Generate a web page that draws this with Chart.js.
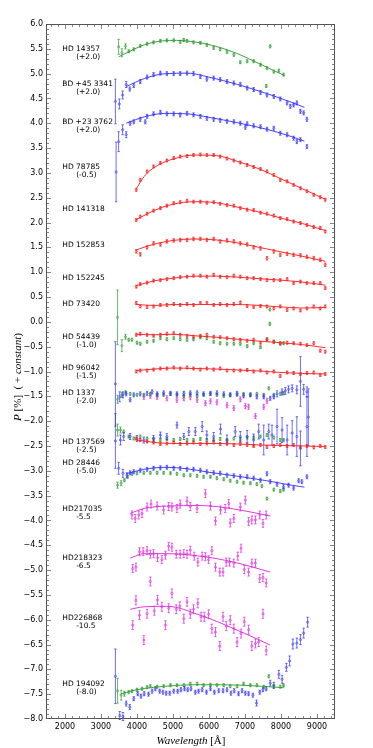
<!DOCTYPE html>
<html>
<head>
<meta charset="utf-8">
<script src="https://cdn.jsdelivr.net/npm/chart.js@4.4.0/dist/chart.umd.min.js"></script>
<style>
  html, body { margin: 0; padding: 0; background: #fff; }
  #c { display: block; }
</style>
</head>
<body>
<canvas id="c" width="373" height="748"></canvas>
<script>
// ===== Axis ticks =====
const X_TICKS = [2000, 3000, 4000, 5000, 6000, 7000, 8000, 9000];
const Y_TICKS = [-8, -7.5, -7, -6.5, -6, -5.5, -5, -4.5, -4, -3.5, -3, -2.5, -2, -1.5, -1, -0.5, 0, 0.5, 1, 1.5, 2, 2.5, 3, 3.5, 4, 4.5, 5, 5.5, 6];

// ===== Star labels (name, offset, P where the label sits) =====
const LABEL_NAMES = ["HD 14357", "BD +45 3341", "BD +23 3762", "HD 78785", "HD 141318", "HD 152853", "HD 152245", "HD 73420", "HD 54439", "HD 96042", "HD 1337", "HD 137569", "HD 28446", "HD217035", "HD218323", "HD226868", "HD 194092"];
const LABEL_SHIFTS = ["(+2.0)", "(+2.0)", "(+2.0)", "(-0.5)", "", "", "", "", "(-1.0)", "(-1.5)", "(-2.0)", "(-2.5)", "(-5.0)", "-5.5", "-6.5", "-10.5", "(-8.0)"];
const LABEL_P = [5.50, 4.80, 4.02, 3.11, 2.27, 1.54, 0.89, 0.36, -0.31, -0.94, -1.43, -2.42, -2.84, -3.77, -4.75, -5.96, -7.29];

// ===== Red (long wavelength range) series, shared grid =====
const WL_RED = [3980, 4090, 4280, 4460, 4650, 4830, 5020, 5200, 5390, 5570, 5760, 5940, 6130, 6310, 6500, 6690, 6870, 7060, 7240, 7430, 7610, 7800, 7980, 8170, 8350, 8540, 8720, 8910, 9090, 9230];
const P_HD78785 = [2.66, 2.86, 3.03, 3.13, 3.20, 3.25, 3.30, 3.33, 3.34, 3.36, 3.37, 3.36, 3.36, 3.33, 3.29, 3.25, 3.21, 3.16, 3.12, 3.08, 3.03, 2.96, 2.86, 2.83, 2.76, 2.69, 2.63, 2.56, 2.51, 2.46];
const P_HD141318 = [2.05, 2.12, 2.18, 2.24, 2.29, 2.34, 2.39, 2.41, 2.44, 2.42, 2.42, 2.40, 2.41, 2.38, 2.35, 2.34, 2.29, 2.26, 2.25, 2.20, 2.18, 2.14, 2.09, 2.07, 2.02, 1.99, 1.95, 1.91, 1.89, 1.82];
const P_HD152853 = [1.42, 1.36, 1.50, 1.58, 1.56, 1.62, 1.64, 1.65, 1.65, 1.67, 1.67, 1.65, 1.67, 1.62, 1.64, 1.62, 1.58, 1.56, 1.50, 1.48, 1.28, 1.42, 1.35, 1.37, 1.35, 1.34, 1.31, 1.28, 1.25, 1.15];
const P_HD152245 = [0.71, 0.76, 0.79, 0.83, 0.84, 0.86, 0.88, 0.90, 0.91, 0.93, 0.93, 0.91, 0.95, 0.91, 0.90, 0.93, 0.91, 0.88, 0.88, 0.86, 0.84, 0.84, 0.84, 0.86, 0.78, 0.81, 0.78, 0.78, 0.78, 0.68];
const P_HD73420 = [0.38, 0.31, 0.30, 0.31, 0.34, 0.34, 0.36, 0.34, 0.36, 0.34, 0.38, 0.38, 0.34, 0.36, 0.34, 0.36, 0.39, 0.32, 0.30, 0.32, 0.31, 0.27, 0.31, 0.24, 0.27, 0.23, 0.27, 0.31, 0.27, 0.31];
const P_HD54439_R = [-0.26, -0.24, -0.26, -0.28, -0.26, -0.24, -0.23, -0.26, -0.28, -0.30, -0.28, -0.26, -0.30, -0.31, -0.33, -0.35, -0.36, -0.38, -0.36, -0.42, -0.35, -0.40, -0.43, -0.42, -0.43, -0.44, -0.47, -0.43, -0.58, -0.60];
const P_HD96042 = [-1.00, -0.98, -0.98, -0.96, -0.94, -0.94, -0.92, -0.94, -0.92, -0.94, -0.96, -0.94, -0.96, -0.94, -0.98, -0.98, -0.98, -0.97, -1.00, -0.98, -1.02, -1.00, -1.09, -1.02, -1.03, -1.05, -1.03, -1.02, -1.07, -1.05];
const P_HD137569_R = [-2.35, -2.38, -2.41, -2.43, -2.46, -2.45, -2.43, -2.46, -2.45, -2.43, -2.46, -2.45, -2.43, -2.46, -2.45, -2.48, -2.46, -2.48, -2.50, -2.48, -2.52, -2.50, -2.48, -2.50, -2.48, -2.52, -2.50, -2.53, -2.50, -2.52];

// ===== Other series =====
const WL_HD14357 = [3490, 3580, 3680, 3770, 3910, 4090, 4280, 4460, 4650, 4830, 5020, 5200, 5300, 5390, 5570, 5760, 5940, 6130, 6310, 6500, 6690, 6870, 7060, 7240, 7430, 7590, 7610, 7700, 7800, 7940, 8070];
const P_HD14357 = [5.54, 5.42, 5.55, 5.45, 5.49, 5.56, 5.60, 5.63, 5.66, 5.67, 5.67, 5.64, 5.68, 5.66, 5.63, 5.62, 5.58, 5.52, 5.49, 5.44, 5.38, 5.23, 5.25, 5.25, 5.18, 4.75, 5.11, 5.55, 5.04, 5.06, 4.98];

const WL_BD45 = [3400, 3510, 3600, 3700, 3800, 3910, 4090, 4280, 4460, 4650, 4830, 5020, 5200, 5390, 5570, 5760, 5940, 6130, 6310, 6500, 6690, 6870, 7060, 7240, 7430, 7610, 7800, 7980, 8170, 8260, 8350, 8440, 8540, 8630, 8720];
const P_BD45 = [4.44, 4.39, 4.57, 4.78, 4.69, 4.76, 4.84, 4.93, 4.98, 5.01, 5.00, 5.00, 5.00, 5.01, 5.00, 4.94, 4.89, 4.91, 4.88, 4.84, 4.81, 4.78, 4.71, 4.68, 4.62, 4.57, 4.54, 4.49, 4.41, 4.34, 4.37, 4.41, 4.24, 4.21, 4.08];

const WL_BD23 = [3420, 3490, 3600, 3700, 3810, 3910, 4090, 4230, 4280, 4460, 4650, 4830, 5020, 5200, 5390, 5570, 5760, 5940, 6130, 6310, 6500, 6690, 6870, 7010, 7060, 7240, 7430, 7610, 7800, 7980, 8170, 8350, 8440, 8540, 8720];
const P_BD23 = [3.02, 3.63, 3.87, 3.77, 4.00, 4.03, 4.08, 4.03, 4.14, 4.19, 4.22, 4.19, 4.19, 4.17, 4.20, 4.17, 4.14, 4.10, 4.08, 4.06, 4.04, 4.03, 4.00, 3.92, 3.99, 3.95, 3.93, 3.88, 3.90, 3.80, 3.77, 3.70, 3.63, 3.67, 3.53];

const WL_HD54439_G = [3460, 3580, 3680, 3770, 3860, 4000, 4090, 4280, 4460, 4650, 4830, 5020, 5200, 5390, 5570, 5760, 5940, 6130, 6310, 6500, 6690, 6870, 7060, 7240, 7430, 7610, 7690, 7690, 7800, 7980, 8070];
const P_HD54439_G = [0.09, -0.48, -0.30, -0.36, -0.36, -0.42, -0.44, -0.40, -0.38, -0.33, -0.35, -0.33, -0.35, -0.36, -0.35, -0.31, -0.33, -0.40, -0.43, -0.44, -0.44, -0.44, -0.49, -0.43, -0.51, -0.36, 0.25, -0.04, -0.40, -0.44, -0.43];

const WL_HD1337_B = [3400, 3520, 3610, 3700, 3810, 3910, 4090, 4280, 4420, 4560, 4740, 4930, 5110, 5300, 5480, 5670, 5850, 6040, 6220, 6410, 6590, 6780, 6960, 7150, 7330, 7520, 7700, 7800, 7890, 8030, 8120, 8210, 8310, 8440, 8540, 8630, 8720, 8760];
const P_HD1337_B = [-1.25, -1.51, -1.47, -1.45, -1.57, -1.47, -1.45, -1.44, -1.41, -1.45, -1.43, -1.44, -1.45, -1.44, -1.43, -1.43, -1.45, -1.44, -1.43, -1.45, -1.47, -1.44, -1.49, -1.47, -1.51, -1.51, -1.54, -1.51, -1.45, -1.41, -1.39, -1.36, -1.34, -1.37, -1.20, -1.36, -1.41, -1.92];
const WL_HD1337_G = [3460, 3580, 3680, 3810, 4000, 4190, 4370, 4560, 4740, 4930, 5110, 5300, 5480, 5670, 5850, 6040, 6220, 6410, 6590, 6780, 6960, 7150, 7330, 7520, 7660, 7800, 7980, 8070];
const P_HD1337_G = [-1.56, -1.47, -1.42, -1.45, -1.47, -1.47, -1.45, -1.47, -1.47, -1.45, -1.47, -1.49, -1.47, -1.49, -1.47, -1.45, -1.47, -1.49, -1.47, -1.47, -1.45, -1.47, -1.45, -1.47, -1.34, -1.47, -1.45, -1.44];
const WL_HD1337_M = [4190, 4370, 4560, 4830, 5110, 5300, 5480, 5670, 5900, 6040, 6220, 6500, 6690, 6870, 7010, 7100, 7290, 7520, 7610];
const P_HD1337_M = [-1.51, -1.49, -1.51, -1.54, -1.57, -1.54, -1.52, -1.57, -1.64, -1.60, -1.62, -1.68, -1.74, -1.56, -1.70, -1.71, -1.90, -1.71, -1.59];

const WL_HD137569_G = [3460, 3540, 3630, 3770, 3910, 4090, 4280, 4460, 4650, 4830, 5020, 5200, 5390, 5570, 5760, 5940, 6130, 6310, 6500, 6690, 6870, 7060, 7240, 7430, 7610, 7800, 7980, 8070];
const P_HD137569_G = [-2.18, -2.18, -2.21, -2.31, -2.35, -2.31, -2.35, -2.36, -2.38, -2.36, -2.38, -2.36, -2.38, -2.38, -2.36, -2.38, -2.38, -2.36, -2.38, -2.35, -2.36, -2.33, -2.33, -2.31, -2.28, -2.33, -2.38, -2.38];
const WL_HD137569_B = [3400, 3540, 3630, 3810, 4000, 4190, 4460, 4650, 4830, 5110, 5300, 5440, 5620, 5810, 5940, 6130, 6320, 6500, 6730, 6870, 7060, 7240, 7380, 7520, 7660, 7750, 7890, 8030, 8170, 8310, 8440, 8540, 8720];
const P_HD137569_B = [-2.40, -2.38, -2.31, -2.31, -2.35, -2.38, -2.35, -2.28, -2.31, -2.08, -2.31, -2.21, -2.21, -2.11, -2.28, -2.31, -2.16, -2.38, -2.21, -2.31, -2.31, -2.38, -2.21, -2.38, -2.21, -2.28, -2.11, -2.18, -2.38, -2.24, -2.31, -2.55, -2.11];
const ERR_HD137569_B = [0.55, 0.10, 0.08, 0.06, 0.06, 0.06, 0.06, 0.06, 0.06, 0.06, 0.06, 0.08, 0.08, 0.10, 0.08, 0.08, 0.10, 0.10, 0.10, 0.10, 0.12, 0.12, 0.15, 0.30, 0.15, 0.20, 0.35, 0.25, 0.30, 0.25, 0.40, 0.35, 0.60];

const WL_HD28446_B = [3490, 3610, 3720, 3810, 3910, 4090, 4280, 4460, 4650, 4830, 5020, 5200, 5390, 5570, 5760, 5940, 6130, 6310, 6500, 6690, 6870, 7060, 7240, 7430, 7610, 7700, 7890, 8070, 8210, 8350, 8490, 8580, 8720];
const P_HD28446_B = [-2.95, -3.05, -3.09, -3.04, -3.02, -2.99, -2.97, -2.95, -2.94, -2.93, -2.95, -2.95, -2.97, -2.97, -2.99, -3.02, -3.04, -3.05, -3.09, -3.10, -3.12, -3.12, -3.15, -3.19, -3.06, -3.22, -3.27, -3.32, -3.29, -3.35, -3.20, -3.22, -3.12];
const WL_HD28446_G = [3460, 3560, 3650, 3740, 3860, 4000, 4190, 4370, 4560, 4740, 4930, 5110, 5300, 5480, 5670, 5850, 6040, 6220, 6410, 6590, 6780, 6960, 7150, 7330, 7470, 7610, 7800, 7980, 8070];
const P_HD28446_G = [-3.29, -3.25, -3.19, -3.12, -3.06, -3.05, -3.04, -3.04, -3.04, -3.04, -3.05, -3.06, -3.09, -3.09, -3.10, -3.12, -3.12, -3.15, -3.17, -3.20, -3.22, -3.24, -3.25, -3.27, -3.31, -3.56, -3.38, -3.41, -3.38];

const WL_HD217035 = [3860, 3950, 4050, 4140, 4280, 4390, 4560, 4740, 4880, 4970, 5110, 5200, 5390, 5480, 5670, 5900, 6040, 6180, 6320, 6450, 6550, 6590, 6690, 6870, 7010, 7100, 7190, 7290, 7410, 7500, 7590];
const P_HD217035 = [-3.89, -3.96, -3.89, -3.86, -3.73, -3.67, -3.71, -3.79, -3.72, -3.73, -3.76, -3.67, -3.61, -3.72, -3.76, -3.46, -3.71, -4.01, -3.79, -3.76, -3.66, -4.05, -3.96, -3.73, -3.59, -4.02, -3.99, -3.99, -3.89, -4.06, -3.89];

const WL_HD218323 = [3880, 3970, 4070, 4170, 4280, 4370, 4460, 4570, 4690, 4790, 4880, 4970, 5090, 5200, 5300, 5390, 5480, 5590, 5690, 5810, 5900, 5990, 6080, 6180, 6300, 6390, 6480, 6570, 6690, 6800, 6890, 6980, 7100, 7190, 7290, 7410, 7500, 7590];
const P_HD218323 = [-4.97, -4.94, -4.63, -4.63, -4.61, -4.68, -4.67, -4.75, -4.79, -4.70, -4.52, -4.54, -4.68, -4.68, -4.67, -4.68, -4.60, -4.72, -4.84, -4.72, -4.73, -4.79, -4.61, -4.94, -5.04, -5.04, -4.84, -4.84, -4.86, -4.72, -4.56, -4.99, -5.04, -4.86, -4.86, -5.17, -5.15, -5.26];

const WL_HD226868 = [3880, 3970, 4070, 4190, 4280, 4370, 4480, 4570, 4690, 4790, 4880, 4970, 5090, 5190, 5300, 5390, 5480, 5570, 5690, 5780, 5870, 5990, 6080, 6180, 6300, 6390, 6480, 6590, 6690, 6780, 6890, 6980, 7100, 7190, 7290, 7380, 7500, 7590];
const P_HD226868 = [-6.11, -5.61, -5.91, -6.41, -5.88, -5.23, -5.82, -5.60, -5.74, -6.11, -5.77, -5.47, -5.79, -5.73, -5.98, -5.64, -5.88, -5.79, -5.67, -5.94, -5.94, -5.89, -6.18, -6.25, -6.53, -5.94, -6.13, -6.01, -6.18, -6.45, -6.28, -6.04, -6.20, -6.53, -6.48, -6.45, -5.88, -6.62];

const WL_HD194092_B = [3400, 3520, 3610, 3700, 3800, 3910, 4020, 4110, 4200, 4320, 4420, 4510, 4630, 4720, 4810, 4910, 5020, 5130, 5220, 5320, 5410, 5500, 5620, 5710, 5810, 5930, 6040, 6150, 6270, 6390, 6500, 6610, 6700, 6820, 6920, 7010, 7100, 7220, 7320, 7410, 7500, 7590, 7700, 7800, 7940, 8030, 8150, 8240, 8330, 8440, 8540, 8630, 8740];
const P_HD194092_B = [-7.14, -7.93, -7.95, -7.69, -7.76, -7.59, -7.49, -7.54, -7.49, -7.50, -7.44, -7.39, -7.44, -7.46, -7.48, -7.48, -7.44, -7.44, -7.41, -7.39, -7.41, -7.39, -7.46, -7.44, -7.41, -7.46, -7.39, -7.46, -7.43, -7.43, -7.41, -7.48, -7.43, -7.49, -7.43, -7.48, -7.49, -7.52, -7.68, -7.46, -7.41, -7.39, -7.28, -7.32, -7.10, -7.20, -6.96, -6.83, -6.49, -6.47, -6.40, -6.27, -6.05];
const WL_HD194092_G = [3460, 3560, 3650, 3770, 3860, 4000, 4140, 4280, 4370, 4560, 4740, 4930, 5110, 5300, 5480, 5670, 5850, 6040, 6220, 6410, 6590, 6780, 6960, 7150, 7330, 7520, 7660, 7800, 7980, 8070];
const P_HD194092_G = [-7.43, -7.52, -7.49, -7.46, -7.44, -7.41, -7.39, -7.36, -7.34, -7.35, -7.34, -7.32, -7.32, -7.32, -7.29, -7.29, -7.32, -7.31, -7.32, -7.32, -7.34, -7.34, -7.29, -7.32, -7.32, -7.35, -7.14, -7.35, -7.35, -7.32];

// ===== Fitted curves =====
const FIT_WL_RED = [3980, 4500, 5000, 5600, 6200, 6800, 7400, 8000, 8600, 9230];
const FIT_WL_HD78785 = [3980, 4200, 4500, 5000, 5600, 6200, 6800, 7400, 8000, 8600, 9230];
const FIT_HD78785 = [2.68, 2.93, 3.12, 3.28, 3.36, 3.35, 3.23, 3.08, 2.88, 2.68, 2.47];
const FIT_HD141318 = [2.06, 2.25, 2.37, 2.42, 2.40, 2.31, 2.21, 2.09, 1.98, 1.84];
const FIT_HD152853 = [1.45, 1.57, 1.64, 1.67, 1.65, 1.59, 1.50, 1.41, 1.32, 1.22];
const FIT_HD152245 = [0.73, 0.83, 0.88, 0.92, 0.92, 0.90, 0.87, 0.84, 0.80, 0.74];
const FIT_HD73420 = [0.35, 0.33, 0.35, 0.35, 0.35, 0.35, 0.33, 0.30, 0.28, 0.29];
const FIT_HD54439 = [-0.25, -0.26, -0.25, -0.28, -0.31, -0.35, -0.39, -0.42, -0.46, -0.52];
const FIT_HD96042 = [-0.98, -0.95, -0.93, -0.94, -0.95, -0.97, -0.99, -1.02, -1.04, -1.05];
const FIT_HD137569 = [-2.38, -2.43, -2.45, -2.45, -2.45, -2.46, -2.48, -2.49, -2.50, -2.51];

const FIT_WL_HD14357 = [3490, 3800, 4200, 4700, 5100, 5600, 6200, 6800, 7400, 8100];
const FIT_HD14357 = [5.34, 5.45, 5.58, 5.66, 5.67, 5.64, 5.55, 5.40, 5.20, 4.96];
const FIT_WL_BLUE = [3700, 4200, 4800, 5400, 6000, 6800, 7600, 8300, 8650];
const FIT_BD45 = [4.74, 4.90, 5.00, 5.01, 4.93, 4.78, 4.60, 4.42, 4.32];
const FIT_BD23 = [4.00, 4.13, 4.20, 4.19, 4.12, 4.01, 3.88, 3.73, 3.64];
const FIT_HD28446 = [-3.06, -2.97, -2.93, -2.96, -3.03, -3.11, -3.20, -3.29, -3.33];
const FIT_WL_MAG = [3810, 4190, 4830, 5760, 6690, 7700];
const FIT_HD217035 = [-3.86, -3.76, -3.71, -3.70, -3.77, -3.91];
const FIT_HD218323 = [-4.76, -4.67, -4.67, -4.72, -4.84, -5.04];
const FIT_HD226868 = [-5.79, -5.74, -5.73, -5.91, -6.18, -6.51];
const FIT_WL_HD194092 = [3560, 4000, 4800, 5600, 6400, 7200, 8080];
const FIT_HD194092 = [-7.49, -7.41, -7.34, -7.31, -7.31, -7.33, -7.37];

// ===== Styling =====
const RED = "#ff1a1a", BLUE = "#3030ff", GREEN = "#2e9a2e", MAGENTA = "#dd22dd";
Chart.defaults.font.family = "'DejaVu Sans', sans-serif";
Chart.defaults.color = "#000";

function pts(wl, p) { return wl.map((w, i) => ({ x: w, y: p[i] })); }

// error list: default value, then overrides (array from index 0, or sparse object)
function errList(n, base, over) {
  const e = new Array(n).fill(base);
  if (Array.isArray(over)) over.forEach((v, i) => { e[i] = v; });
  else if (over) Object.keys(over).forEach(k => { e[+k] = over[k]; });
  return e;
}

const SERIES = [
  { wl: WL_RED, p: P_HD78785, c: RED, e: 0.03 },
  { wl: WL_RED, p: P_HD141318, c: RED, e: 0.03 },
  { wl: WL_RED, p: P_HD152853, c: RED, e: 0.035 },
  { wl: WL_RED, p: P_HD152245, c: RED, e: 0.03 },
  { wl: WL_RED, p: P_HD73420, c: RED, e: 0.03 },
  { wl: WL_RED, p: P_HD54439_R, c: RED, e: 0.03 },
  { wl: WL_RED, p: P_HD96042, c: RED, e: 0.03 },
  { wl: WL_RED, p: P_HD137569_R, c: RED, e: 0.03 },
  { wl: WL_BD45, p: P_BD45, c: BLUE, e: 0.04, over: [0.45, 0.10, 0.08, 0.06] },
  { wl: WL_BD23, p: P_BD23, c: BLUE, e: 0.04, over: [0.60, 0.20, 0.10, 0.06] },
  { wl: WL_HD1337_B, p: P_HD1337_B, c: BLUE, e: 0.04, over: { 0: 0.85, 1: 0.10, 2: 0.06, 28: 0.06, 29: 0.06, 30: 0.07, 31: 0.07, 32: 0.07, 33: 0.08, 34: 0.50, 35: 0.10, 36: 0.10, 37: 0.57 } },
  { wl: WL_HD137569_B, p: P_HD137569_B, c: BLUE, e: 0.06, over: ERR_HD137569_B },
  { wl: WL_HD28446_B, p: P_HD28446_B, c: BLUE, e: 0.04, over: [0.12, 0.08, 0.05] },
  { wl: WL_HD194092_B, p: P_HD194092_B, c: BLUE, e: 0.04, over: { 0: 0.55, 1: 0.08, 2: 0.08, 3: 0.05, 4: 0.05, 38: 0.06, 42: 0.06, 43: 0.06, 44: 0.08, 45: 0.08, 46: 0.08, 47: 0.1, 48: 0.1, 49: 0.1, 50: 0.1, 51: 0.1, 52: 0.1 } },
  { wl: WL_HD14357, p: P_HD14357, c: GREEN, e: 0.03, over: [0.15, 0.08, 0.05] },
  { wl: WL_HD54439_G, p: P_HD54439_G, c: GREEN, e: 0.03, over: [0.55, 0.12, 0.05] },
  { wl: WL_HD1337_G, p: P_HD1337_G, c: GREEN, e: 0.03, over: [0.08, 0.05] },
  { wl: WL_HD137569_G, p: P_HD137569_G, c: GREEN, e: 0.03, over: [0.12, 0.06] },
  { wl: WL_HD28446_G, p: P_HD28446_G, c: GREEN, e: 0.03, over: [0.06, 0.05] },
  { wl: WL_HD194092_G, p: P_HD194092_G, c: GREEN, e: 0.03, over: [0.25, 0.10, 0.05] },
  { wl: WL_HD1337_M, p: P_HD1337_M, c: MAGENTA, e: 0.05 },
  { wl: WL_HD217035, p: P_HD217035, c: MAGENTA, e: 0.08 },
  { wl: WL_HD218323, p: P_HD218323, c: MAGENTA, e: 0.08 },
  { wl: WL_HD226868, p: P_HD226868, c: MAGENTA, e: 0.09 }
];

const FITS = [
  [FIT_WL_HD78785, FIT_HD78785, RED], [FIT_WL_RED, FIT_HD141318, RED], [FIT_WL_RED, FIT_HD152853, RED],
  [FIT_WL_RED, FIT_HD152245, RED], [FIT_WL_RED, FIT_HD73420, RED], [FIT_WL_RED, FIT_HD54439, RED],
  [FIT_WL_RED, FIT_HD96042, RED], [FIT_WL_RED, FIT_HD137569, RED],
  [FIT_WL_HD14357, FIT_HD14357, GREEN], [FIT_WL_BLUE, FIT_BD45, BLUE], [FIT_WL_BLUE, FIT_BD23, BLUE],
  [FIT_WL_BLUE, FIT_HD28446, BLUE], [FIT_WL_MAG, FIT_HD217035, MAGENTA], [FIT_WL_MAG, FIT_HD218323, MAGENTA],
  [FIT_WL_MAG, FIT_HD226868, MAGENTA], [FIT_WL_HD194092, FIT_HD194092, GREEN]
];

const datasets = [];
FITS.forEach(f => datasets.push({
  data: pts(f[0], f[1]), borderColor: f[2], borderWidth: 0.9, pointRadius: 0,
  showLine: true, cubicInterpolationMode: "monotone", fill: false, order: 0
}));
SERIES.forEach(s => datasets.push({
  data: pts(s.wl, s.p), borderColor: s.c, backgroundColor: "rgba(0,0,0,0)",
  pointRadius: 1.1, pointBorderWidth: 0.6, showLine: false,
  errs: errList(s.wl.length, s.e, s.over),
  order: s.c === RED ? 1 : s.c === BLUE ? 2 : s.c === GREEN ? 3 : 4
}));

// error bars, drawn under each dataset's markers
const errorBars = {
  id: "errorBars",
  beforeDatasetDraw(chart, args) {
    const ds = chart.data.datasets[args.index];
    if (!ds.errs) return;
    const ctx = chart.ctx, ys = chart.scales.y;
    ctx.save();
    ctx.strokeStyle = ds.borderColor;
    ctx.lineWidth = 0.7;
    ctx.beginPath();
    args.meta.data.forEach((pt, i) => {
      const v = ds.data[i].y, e = ds.errs[i];
      const y0 = ys.getPixelForValue(v - e), y1 = ys.getPixelForValue(v + e);
      ctx.moveTo(pt.x, y0); ctx.lineTo(pt.x, y1);
      ctx.moveTo(pt.x - 1.2, y0); ctx.lineTo(pt.x + 1.2, y0);
      ctx.moveTo(pt.x - 1.2, y1); ctx.lineTo(pt.x + 1.2, y1);
    });
    ctx.stroke();
    ctx.restore();
  }
};

// frame with inward ticks, star labels, axis titles
const decor = {
  id: "decor",
  afterDraw(chart) {
    const { ctx, chartArea: a, scales: { x, y } } = chart;
    ctx.save();
    ctx.strokeStyle = "#555";
    ctx.lineWidth = 1;
    const L = Math.round(a.left) - 0.5, R = Math.round(a.right) - 0.5;
    const T = Math.round(a.top) + 0.5, B = Math.round(a.bottom) - 0.5;
    ctx.strokeRect(L, T, R - L, B - T);
    ctx.lineWidth = 0.8;
    ctx.strokeStyle = "#666";
    ctx.beginPath();
    for (let v = 1600; v <= 9400; v += 200) {
      const px = Math.round(x.getPixelForValue(v)) + 0.5;
      const len = v % 1000 === 0 ? 4.5 : 2.5;
      ctx.moveTo(px, B); ctx.lineTo(px, B - len);
      ctx.moveTo(px, T); ctx.lineTo(px, T + len);
    }
    for (let k = -79; k <= 59; k++) {
      const py = Math.round(y.getPixelForValue(k / 10)) + 0.5;
      const len = k % 5 === 0 ? 4.5 : 2.5;
      ctx.moveTo(L, py); ctx.lineTo(L + len, py);
      ctx.moveTo(R, py); ctx.lineTo(R - len, py);
    }
    ctx.stroke();

    // star labels
    ctx.fillStyle = "#000";
    ctx.font = "7.5px 'DejaVu Sans'";
    ctx.textAlign = "left";
    ctx.textBaseline = "middle";
    const lx = x.getPixelForValue(1925), lx2 = x.getPixelForValue(2310);
    LABEL_NAMES.forEach((name, i) => {
      const py = y.getPixelForValue(LABEL_P[i]);
      ctx.fillText(name, lx, py);
      if (LABEL_SHIFTS[i]) ctx.fillText(LABEL_SHIFTS[i], lx2, py + 8);
    });

    // axis titles with mixed italic
    function mixed(parts, cx, cy, rot) {
      ctx.save();
      ctx.translate(cx, cy);
      if (rot) ctx.rotate(-Math.PI / 2);
      const fonts = parts.map(p => (p[1] ? "italic " : "") + "11px 'Liberation Serif'");
      let total = 0;
      parts.forEach((p, i) => { ctx.font = fonts[i]; total += ctx.measureText(p[0]).width; });
      let cur = -total / 2;
      ctx.textAlign = "left";
      ctx.textBaseline = "middle";
      parts.forEach((p, i) => { ctx.font = fonts[i]; ctx.fillText(p[0], cur, 0); cur += ctx.measureText(p[0]).width; });
      ctx.restore();
    }
    mixed([["Wavelength", true], [" [\u00C5]", false]], (a.left + a.right) / 2, 741, false);
    mixed([["P", true], [" [%]  ( + ", false], ["constant", true], [")", false]], 18, 377, true);
    ctx.restore();
  }
};

new Chart(document.getElementById("c"), {
  type: "scatter",
  data: { datasets },
  options: {
    responsive: false,
    animation: false,
    devicePixelRatio: 1,
    layout: { padding: { top: 24, right: 38, left: 0, bottom: 0 } },
    plugins: { legend: { display: false }, tooltip: { enabled: false } },
    scales: {
      x: {
        type: "linear", min: 1500, max: 9500,
        grid: { display: false, drawTicks: false }, border: { display: false },
        afterBuildTicks: s => { s.ticks = X_TICKS.map(v => ({ value: v })); },
        afterFit: s => { s.height = 29; },
        ticks: { autoSkip: false, maxRotation: 0, padding: 3, font: { size: 8 }, callback: v => String(v) }
      },
      y: {
        type: "linear", min: -8, max: 6,
        grid: { display: false, drawTicks: false }, border: { display: false },
        afterBuildTicks: s => { s.ticks = Y_TICKS.map(v => ({ value: v })); },
        afterFit: s => { s.width = 47; },
        ticks: { autoSkip: false, padding: 4, font: { size: 8 }, callback: v => v.toFixed(1).replace("-", "\u2212") }
      }
    }
  },
  plugins: [errorBars, decor]
});
</script>
</body>
</html>
